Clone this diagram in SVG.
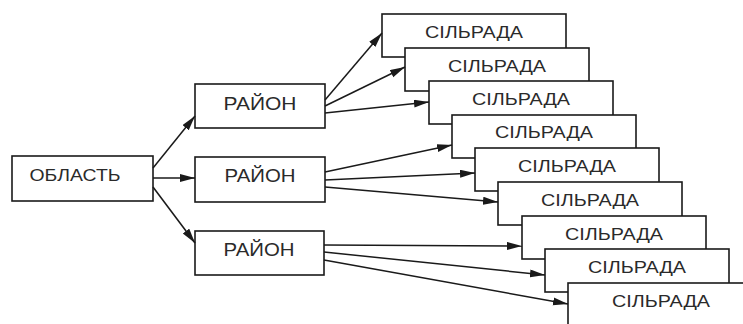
<svg xmlns="http://www.w3.org/2000/svg" width="743" height="324" viewBox="0 0 743 324">
<style>
.box{fill:#fff;stroke:#1a1a1a;stroke-width:1.6}
.t{font-family:"Liberation Sans",Arial,sans-serif;font-size:16px;fill:#2a2a2a;text-anchor:middle}
.r{font-size:17.5px}
.c{fill:none;stroke:#1a1a1a;stroke-width:1.5;marker-end:url(#ah)}
</style>
<defs>
<marker id="ah" markerUnits="userSpaceOnUse" markerWidth="16" markerHeight="9" refX="15" refY="4" orient="auto">
<path d="M0,0 L15,4 L0,8 z" fill="#1a1a1a"/>
</marker>
</defs>
<rect width="743" height="324" fill="#fff"/>
<g id="oblast"><rect class="box" x="12" y="156" width="141" height="45"/><text class="t" x="75" y="181" textLength="91" lengthAdjust="spacingAndGlyphs">ОБЛАСТЬ</text></g>
<g id="raion1"><rect class="box" x="195" y="84" width="130" height="44"/><text class="t r" x="260" y="110" textLength="73" lengthAdjust="spacingAndGlyphs">РАЙОН</text></g>
<g id="raion2"><rect class="box" x="195" y="157" width="130" height="45"/><text class="t r" x="260" y="182" textLength="71" lengthAdjust="spacingAndGlyphs">РАЙОН</text></g>
<g id="raion3"><rect class="box" x="195" y="231" width="129" height="44"/><text class="t r" x="259" y="256" textLength="71" lengthAdjust="spacingAndGlyphs">РАЙОН</text></g>
<g id="s1"><rect class="box" x="382" y="14" width="184" height="43"/><text class="t" x="474" y="38" textLength="98" lengthAdjust="spacingAndGlyphs">СІЛЬРАДА</text></g>
<g id="s2"><rect class="box" x="405" y="48" width="184" height="43"/><text class="t" x="497" y="72" textLength="98" lengthAdjust="spacingAndGlyphs">СІЛЬРАДА</text></g>
<g id="s3"><rect class="box" x="429" y="81" width="184" height="43"/><text class="t" x="521" y="105" textLength="98" lengthAdjust="spacingAndGlyphs">СІЛЬРАДА</text></g>
<g id="s4"><rect class="box" x="452" y="115" width="184" height="43"/><text class="t" x="544" y="138" textLength="98" lengthAdjust="spacingAndGlyphs">СІЛЬРАДА</text></g>
<g id="s5"><rect class="box" x="475" y="148" width="184" height="43"/><text class="t" x="567" y="172" textLength="98" lengthAdjust="spacingAndGlyphs">СІЛЬРАДА</text></g>
<g id="s6"><rect class="box" x="498" y="182" width="184" height="43"/><text class="t" x="590" y="206" textLength="98" lengthAdjust="spacingAndGlyphs">СІЛЬРАДА</text></g>
<g id="s7"><rect class="box" x="522" y="216" width="184" height="43"/><text class="t" x="614" y="240" textLength="98" lengthAdjust="spacingAndGlyphs">СІЛЬРАДА</text></g>
<g id="s8"><rect class="box" x="545" y="249" width="184" height="43"/><text class="t" x="637" y="273" textLength="98" lengthAdjust="spacingAndGlyphs">СІЛЬРАДА</text></g>
<g id="s9"><rect class="box" x="568" y="283" width="184" height="43"/><text class="t" x="661" y="307" textLength="98" lengthAdjust="spacingAndGlyphs">СІЛЬРАДА</text></g>
<g id="connectors">
<line class="c" x1="153" y1="168" x2="195" y2="116"/>
<line class="c" x1="153" y1="178" x2="195" y2="178"/>
<line class="c" x1="153" y1="187" x2="195" y2="243"/>
<line class="c" x1="325" y1="100" x2="382" y2="33"/>
<line class="c" x1="325" y1="106" x2="405" y2="67"/>
<line class="c" x1="325" y1="113" x2="429" y2="102"/>
<line class="c" x1="325" y1="172" x2="452" y2="145"/>
<line class="c" x1="325" y1="180" x2="475" y2="173"/>
<line class="c" x1="325" y1="187" x2="498" y2="202"/>
<line class="c" x1="324" y1="245" x2="522" y2="246"/>
<line class="c" x1="324" y1="252" x2="545" y2="275"/>
<line class="c" x1="324" y1="260" x2="568" y2="304"/>
</g>
</svg>
